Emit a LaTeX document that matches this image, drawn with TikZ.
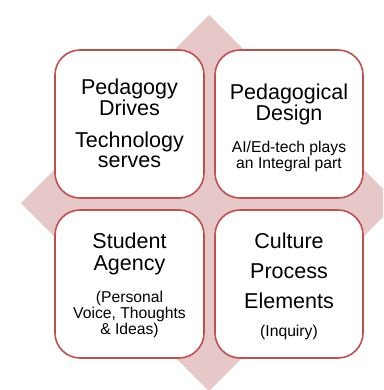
\documentclass[tikz,border=0pt]{standalone}
\usepackage{fontspec}
\setmainfont{Liberation Sans}
\definecolor{diamondpink}{RGB}{230,200,201}
\definecolor{boxred}{RGB}{192,80,77}
\tikzset{
  quad/.style={draw=boxred, line width=1.6pt, fill=white, rounded corners=25pt},
  big/.style={anchor=base, inner sep=0pt, font=\fontsize{21.5}{21.5}\selectfont},
  small/.style={anchor=base, inner sep=0pt, font=\fontsize{15.7}{15.7}\selectfont}
}
\begin{document}
\begin{tikzpicture}[x=1pt,y=-1pt]
\useasboundingbox (0,0) rectangle (383,390);
\clip (0,0) rectangle (383,390);
\fill[diamondpink] (209,15) -- (397,203) -- (209,391) -- (21,203) -- cycle;
\draw[quad] (55,50) rectangle (204,198);
\draw[quad] (215,50) rectangle (363,198);
\draw[quad] (55,210) rectangle (204,358);
\draw[quad] (215,210) rectangle (363,358);
% top-left
\node[big] (a1) at (129.5,95) {Pedagogy};
\node[big] (a2) at (129.5,116) {Drives};
\node[big] (a3) at (129.5,147) {Technology};
\node[big] (a4) at (129.5,167) {serves};
% top-right
\node[big] (b1) at (289,100) {Pedagogical};
\node[big] (b2) at (289,121) {Design};
\node[small] (b3) at (289,153) {AI/Ed-tech plays};
\node[small] (b4) at (289,168) {an Integral part};
% bottom-left
\node[big] (c1) at (129.5,248) {Student};
\node[big] (c2) at (129.5,270) {Agency};
\node[small] (c3) at (129.5,302) {(Personal};
\node[small] (c4) at (129.5,318) {Voice, Thoughts};
\node[small] (c5) at (129.5,334) {\& Ideas)};
% bottom-right
\node[big] (d1) at (289,248) {Culture};
\node[big] (d2) at (289,278) {Process};
\node[big] (d3) at (289,308) {Elements};
\node[small] (d4) at (289,336) {(Inquiry)};
\end{tikzpicture}
\end{document}
